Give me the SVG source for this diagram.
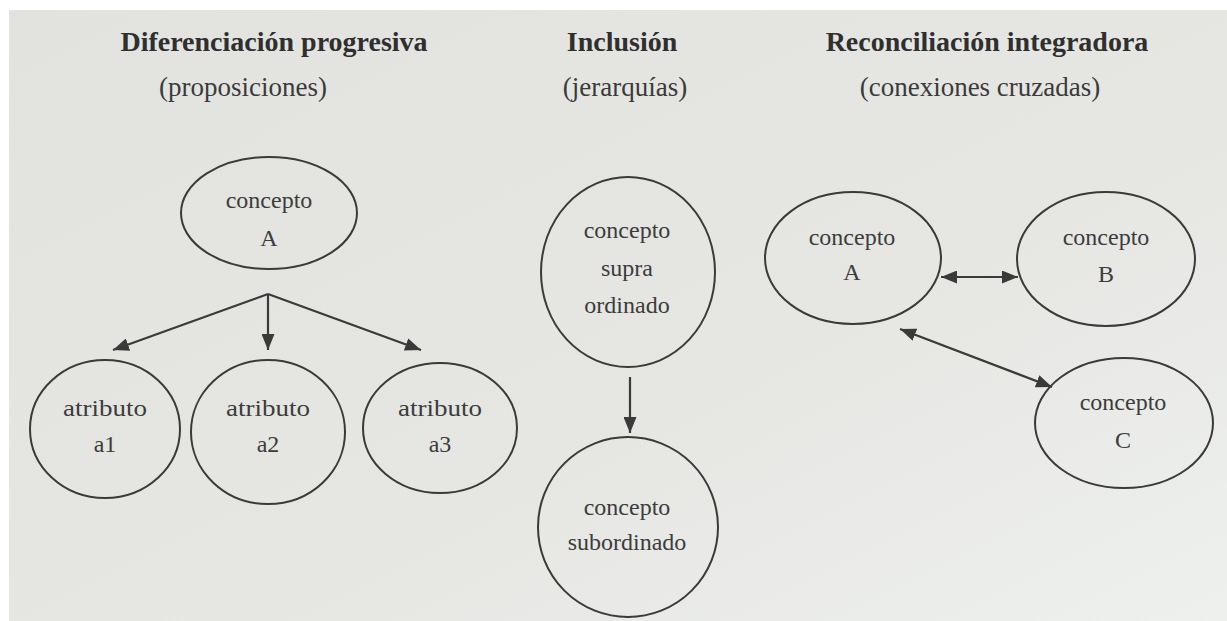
<svg xmlns="http://www.w3.org/2000/svg" width="1227" height="621" viewBox="0 0 1227 621">
<defs>
<linearGradient id="bg" x1="0" y1="0" x2="1" y2="1">
<stop offset="0" stop-color="#e2e3df"/>
<stop offset="0.6" stop-color="#e6e7e3"/>
<stop offset="1" stop-color="#eef0ee"/>
</linearGradient>
<marker id="ah" markerUnits="userSpaceOnUse" markerWidth="17" markerHeight="13" refX="16" refY="6.5" orient="auto-start-reverse" viewBox="0 0 17 13">
<path d="M0,0 L16,6.5 L0,13 z" fill="#3a3a3a"/>
</marker>
<style>
.node ellipse{fill:none;stroke:#3a3a3a;stroke-width:2}
.node text{font-family:"Liberation Serif",serif;font-size:24px;fill:#3c3c3c;text-anchor:middle}
.title{font-family:"Liberation Serif",serif;font-size:28px;font-weight:bold;fill:#2f2f2f;text-anchor:middle}
.sub{font-family:"Liberation Serif",serif;font-size:27px;fill:#3a3a3a;text-anchor:middle}
.conn path{fill:none;stroke:#3a3a3a;stroke-width:2.2}
</style>
</defs>
<rect x="0" y="0" width="1227" height="621" fill="#ffffff"/>
<rect x="9" y="10" width="1218" height="611" fill="url(#bg)"/>

<g id="titles">
<text class="title" x="274" y="51">Diferenciación progresiva</text>
<text class="sub" x="243" y="96">(proposiciones)</text>
<text class="title" x="622" y="51">Inclusión</text>
<text class="sub" x="625" y="96">(jerarquías)</text>
<text class="title" x="987" y="51">Reconciliación integradora</text>
<text class="sub" x="980" y="96">(conexiones cruzadas)</text>
</g>

<g class="conn" id="connectors">
<path d="M268,294 L113,350" marker-end="url(#ah)"/>
<path d="M268,294 L268,350" marker-end="url(#ah)"/>
<path d="M268,294 L421,350" marker-end="url(#ah)"/>
<path d="M630,377 L630,433" marker-end="url(#ah)"/>
<path d="M941,277 L1018,277" marker-start="url(#ah)" marker-end="url(#ah)"/>
<path d="M900,329 L1052,387" marker-start="url(#ah)" marker-end="url(#ah)"/>
</g>

<g class="node" id="conceptoA1">
<ellipse cx="269" cy="213" rx="88" ry="56"/>
<text x="269" y="208">concepto</text>
<text x="269" y="246">A</text>
</g>
<g class="node" id="atributoA1">
<ellipse cx="105" cy="429" rx="75" ry="69"/>
<text x="105" y="416" textLength="84" lengthAdjust="spacingAndGlyphs">atributo</text>
<text x="105" y="452">a1</text>
</g>
<g class="node" id="atributoA2">
<ellipse cx="268" cy="432" rx="77" ry="72"/>
<text x="268" y="416" textLength="84" lengthAdjust="spacingAndGlyphs">atributo</text>
<text x="268" y="452">a2</text>
</g>
<g class="node" id="atributoA3">
<ellipse cx="440" cy="428" rx="77" ry="65"/>
<text x="440" y="416" textLength="84" lengthAdjust="spacingAndGlyphs">atributo</text>
<text x="440" y="452">a3</text>
</g>
<g class="node" id="supra">
<ellipse cx="628" cy="272" rx="87" ry="95"/>
<text x="627" y="238">concepto</text>
<text x="627" y="276">supra</text>
<text x="627" y="313">ordinado</text>
</g>
<g class="node" id="subordinado">
<ellipse cx="628" cy="527" rx="90" ry="90"/>
<text x="627" y="515">concepto</text>
<text x="627" y="550">subordinado</text>
</g>
<g class="node" id="conceptoA2">
<ellipse cx="853" cy="258" rx="88" ry="66"/>
<text x="852" y="245">concepto</text>
<text x="852" y="280">A</text>
</g>
<g class="node" id="conceptoB">
<ellipse cx="1106" cy="259" rx="89" ry="67"/>
<text x="1106" y="245">concepto</text>
<text x="1106" y="282">B</text>
</g>
<g class="node" id="conceptoC">
<ellipse cx="1124" cy="423" rx="89" ry="65"/>
<text x="1123" y="410">concepto</text>
<text x="1123" y="448">C</text>
</g>
</svg>
